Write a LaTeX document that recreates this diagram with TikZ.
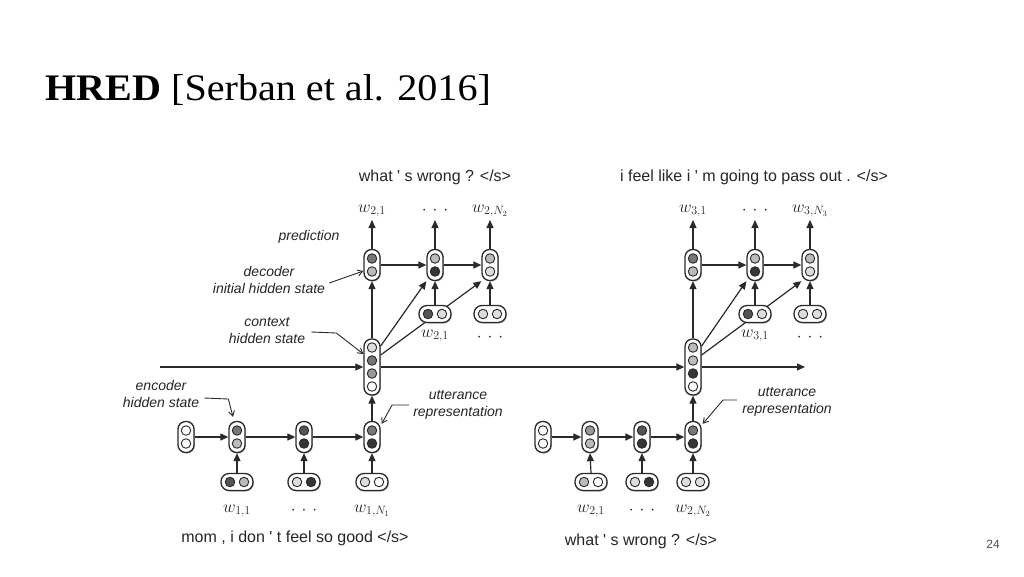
\documentclass[tikz,border=0pt]{standalone}
\usepackage{fontspec}
\usepackage{graphicx}
\setmainfont{Liberation Serif}
\newfontfamily\diagfont{Liberation Sans}
\usetikzlibrary{arrows.meta,shadows,backgrounds}

\definecolor{edge}{HTML}{2A2A2A}
\definecolor{gW}{HTML}{FAFAFA}
\definecolor{gA}{HTML}{DDDDDD}
\definecolor{gB}{HTML}{BBBBBB}
\definecolor{gC}{HTML}{999999}
\definecolor{gD}{HTML}{777777}
\definecolor{gE}{HTML}{555555}
\definecolor{gF}{HTML}{353535}

\tikzset{
  capsule/.style={draw=edge, line width=1.3pt, fill=white, inner sep=0pt,
    drop shadow={shadow xshift=0.8pt, shadow yshift=-1pt, opacity=0.3, fill=black}},
  vcap/.style={capsule, minimum width=16pt, minimum height=31pt, rounded corners=7.5pt},
  ccap/.style={capsule, minimum width=16pt, minimum height=56pt, rounded corners=7.5pt},
  hcap/.style={capsule, minimum width=32pt, minimum height=17pt, rounded corners=8pt},
  cell/.style={circle, draw=edge, line width=0.9pt, minimum size=9.5pt, inner sep=0pt},
  arr/.style={draw=edge, line width=1.2pt, -{Triangle[length=8pt,width=7pt]}},
  ann/.style={draw=edge, line width=0.9pt, -{Straight Barb[length=5pt,width=6pt]}},
  sent/.style={font=\diagfont\fontsize{16}{19}\selectfont, text=black!85, inner sep=0pt},
  note/.style={font=\diagfont\itshape\fontsize{14}{17}\selectfont, align=center, inner sep=0pt, text=black!85},
  wlab/.style={font=\fontsize{17}{20}\selectfont, inner sep=0pt, text=black!85},
}

\newcommand{\vtwo}[4]{%
  \node[vcap] (#1) at (#2) {};
  \node[cell, fill=#3] (#1-a) at ([yshift=6.5pt]#1.center) {};
  \node[cell, fill=#4] (#1-b) at ([yshift=-6.5pt]#1.center) {};}
\newcommand{\htwo}[4]{%
  \node[hcap] (#1) at (#2) {};
  \node[cell, fill=#3] (#1-a) at ([xshift=-7pt]#1.center) {};
  \node[cell, fill=#4] (#1-b) at ([xshift=7pt]#1.center) {};}
\newcommand{\vfour}[6]{%
  \node[ccap] (#1) at (#2) {};
  \node[cell, fill=#3] (#1-a) at ([yshift=19.5pt]#1.center) {};
  \node[cell, fill=#4] (#1-b) at ([yshift=6.5pt]#1.center) {};
  \node[cell, fill=#5] (#1-c) at ([yshift=-6.5pt]#1.center) {};
  \node[cell, fill=#6] (#1-d) at ([yshift=-19.5pt]#1.center) {};}
\newcommand{\tdots}{$\cdot\hspace{6pt}{\cdot}\hspace{6pt}{\cdot}$}
\newcommand{\qs}{\textquotesingle}

\begin{document}
\begin{tikzpicture}[x=1pt, y=-1pt]
\useasboundingbox (0,0) rectangle (1024,576);
\begin{scope}[on background layer]
  \fill[white] (0,0) rectangle (1024,576);
\end{scope}

% title
\node[anchor=base west, inner sep=0pt] (title) at (45,100)
  {\fontsize{37.5}{40}\selectfont\scalebox{1.07}[1]{\textbf{HRED} [Serban et al. 2016]}};
\node[font=\diagfont\fontsize{12}{14}\selectfont, text=black!70, inner sep=0pt] (pg) at (993,544) {24};

% ---------------- left part ----------------
\vtwo{I1}{186,437}{gW}{gW}
\vtwo{E1}{237,437}{gD}{gB}
\vtwo{E2}{304,437}{gE}{gF}
\vtwo{E3}{372,437}{gD}{gF}
\htwo{X1}{237,482}{gE}{gB}
\htwo{X2}{304,482}{gA}{gF}
\htwo{X3}{372,482}{gA}{gW}
\node[wlab] (lX1) at (237,511) {$w_{1,1}$};
\node[wlab] (lX2) at (304,511) {\tdots};
\node[wlab] (lX3) at (372,511) {$w_{1,N_1}$};
\node[sent] (s1) at (295,538) {mom , i don \qs{} t feel so good </s>};

\vfour{C1}{372,367}{gA}{gD}{gC}{gW}

\vtwo{D1}{372,265}{gD}{gB}
\vtwo{D2}{435,265}{gB}{gF}
\vtwo{D3}{490,265}{gB}{gA}
\htwo{Y2}{435,314}{gE}{gA}
\htwo{Y3}{490,314}{gA}{gA}
\node[wlab] (lY2) at (435,336) {$w_{2,1}$};
\node[wlab] (lY3) at (490,338) {\tdots};
\node[wlab] (lD1) at (372,211) {$w_{2,1}$};
\node[wlab] (lD2) at (435,211) {\tdots};
\node[wlab] (lD3) at (490,211) {$w_{2,N_2}$};
\node[sent] (s2) at (435,177) {what \qs{} s wrong ? </s>};

% ---------------- right part ----------------
\vtwo{I2}{543,437}{gW}{gW}
\vtwo{F1}{590,437}{gC}{gB}
\vtwo{F2}{642,437}{gE}{gF}
\vtwo{F3}{693,437}{gD}{gF}
\htwo{Z1}{591,482}{gB}{gW}
\htwo{Z2}{642,482}{gA}{gF}
\htwo{Z3}{693,482}{gA}{gA}
\node[wlab] (lZ1) at (591,511) {$w_{2,1}$};
\node[wlab] (lZ2) at (642,511) {\tdots};
\node[wlab] (lZ3) at (693,511) {$w_{2,N_2}$};
\node[sent] (s3) at (641,541) {what \qs{} s wrong ? </s>};

\vfour{C2}{693,367}{gB}{gB}{gF}{gW}

\vtwo{G1}{693,265}{gD}{gB}
\vtwo{G2}{755,265}{gB}{gF}
\vtwo{G3}{810,265}{gB}{gA}
\htwo{V2}{755,314}{gE}{gA}
\htwo{V3}{810,314}{gA}{gA}
\node[wlab] (lV2) at (755,336) {$w_{3,1}$};
\node[wlab] (lV3) at (810,338) {\tdots};
\node[wlab] (lG1) at (693,211) {$w_{3,1}$};
\node[wlab] (lG2) at (755,211) {\tdots};
\node[wlab] (lG3) at (810,211) {$w_{3,N_3}$};
\node[sent] (s4) at (754,177) {i feel like i \qs{} m going to pass out . </s>};

% ---------------- connectors ----------------
\coordinate (hstart) at (160,367);
\coordinate (hend) at (805,367);
\draw[arr] (hstart) -- (C1.west);
\draw[arr] (C1.east) -- (C2.west);
\draw[arr] (C2.east) -- (hend);

% left encoder
\draw[arr] (I1.east) -- (E1.west);
\draw[arr] (E1.east) -- (E2.west);
\draw[arr] (E2.east) -- (E3.west);
\draw[arr] (X1.north) -- (E1.south);
\draw[arr] (X2.north) -- (E2.south);
\draw[arr] (X3.north) -- (E3.south);
\draw[arr] (E3.north) -- (C1.south);
% left decoder
\draw[arr] (C1.north) -- (D1.south);
\draw[arr] ([yshift=21pt]C1.east) -- (D2.south west);
\begin{scope}[on background layer]
\draw[arr] ([yshift=12pt]C1.east) -- (D3.south west);
\end{scope}
\draw[arr] (D1.east) -- (D2.west);
\draw[arr] (D2.east) -- (D3.west);
\draw[arr] (Y2.north) -- (D2.south);
\draw[arr] (Y3.north) -- (D3.south);
\draw[arr, shorten >=9pt] (D1.north) -- (lD1.center);
\draw[arr, shorten >=9pt] (D2.north) -- (lD2.center);
\draw[arr, shorten >=9pt] (D3.north) -- (lD3.center);

% right encoder
\draw[arr] (I2.east) -- (F1.west);
\draw[arr] (F1.east) -- (F2.west);
\draw[arr] (F2.east) -- (F3.west);
\draw[arr] (Z1.north) -- (F1.south);
\draw[arr] (Z2.north) -- (F2.south);
\draw[arr] (Z3.north) -- (F3.south);
\draw[arr] (F3.north) -- (C2.south);
% right decoder
\draw[arr] (C2.north) -- (G1.south);
\draw[arr] ([yshift=21pt]C2.east) -- (G2.south west);
\begin{scope}[on background layer]
\draw[arr] ([yshift=12pt]C2.east) -- (G3.south west);
\end{scope}
\draw[arr] (G1.east) -- (G2.west);
\draw[arr] (G2.east) -- (G3.west);
\draw[arr] (V2.north) -- (G2.south);
\draw[arr] (V3.north) -- (G3.south);
\draw[arr, shorten >=9pt] (G1.north) -- (lG1.center);
\draw[arr, shorten >=9pt] (G2.north) -- (lG2.center);
\draw[arr, shorten >=9pt] (G3.north) -- (lG3.center);

% ---------------- annotations ----------------
\node[note] (nPred) at (309,237) {prediction};
\node[note] (nDec) at (269,279.5) {decoder\\initial hidden state};
\node[note] (nCtx) at (267,331) {context\\hidden state};
\node[note] (nEnc) at (161,394) {encoder\\hidden state};
\node[note] (nUtt1) at (458,405) {utterance\\representation};
\node[note] (nUtt2) at (787,402) {utterance\\representation};

\draw[ann] ([xshift=4pt,yshift=-3.5pt]nDec.east) -- ([yshift=-6pt]D1.west);
\draw[ann] ([xshift=6pt,yshift=-1pt]nCtx.east) -- ++(25,1) -- ([yshift=13pt]C1.west);
\draw[ann] ([xshift=5pt,yshift=-4pt]nEnc.east) -- ++(24,1) -- ([xshift=-4pt,yshift=4pt]E1.north);
\draw[ann] ([xshift=-4pt]nUtt1.west) -- ++(-17,0) -- ([xshift=1pt,yshift=-3pt]E3.north east);
\draw[ann] ([xshift=-5pt,yshift=2pt]nUtt2.west) -- ++(-14,0) -- ([xshift=1pt,yshift=-3pt]F3.north east);
\end{tikzpicture}
\end{document}
